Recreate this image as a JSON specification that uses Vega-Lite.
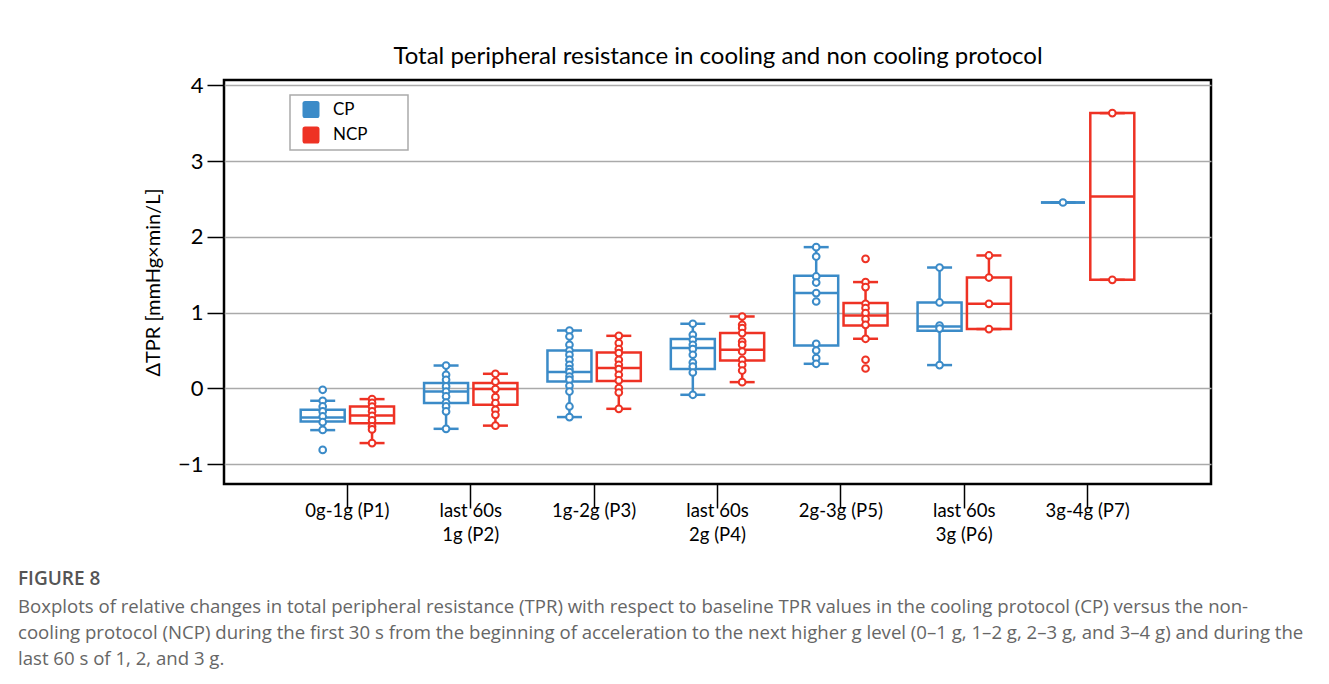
{
  "$schema": "https://vega.github.io/schema/vega-lite/v6.json",
  "width": 987,
  "height": 404,
  "autosize": {"type": "none"},
  "padding": {"left": 224, "top": 80, "right": 118, "bottom": 200},
  "background": "white",
  "config": {
    "view": {"stroke": "black", "strokeWidth": 2.5},
    "font": "Lato",
    "axis": {"labelFont": "Lato", "titleFont": "Lato"},
    "legend": {"strokeWidth": 1.5},
    "tick": {"opacity": 1},
    "rule": {"opacity": 1}
  },
  "title": {
    "text": "FIGURE 8",
    "subtitle": [
      "Boxplots of relative changes in total peripheral resistance (TPR) with respect to baseline TPR values in the cooling protocol (CP) versus the non-",
      "cooling protocol (NCP) during the first 30 s from the beginning of acceleration to the next higher g level (0–1 g, 1–2 g, 2–3 g, and 3–4 g) and during the",
      "last 60 s of 1, 2, and 3 g."
    ],
    "orient": "bottom",
    "anchor": "start",
    "frame": "group",
    "dx": -206,
    "offset": 26,
    "font": "Open Sans",
    "fontSize": 19,
    "fontWeight": 600,
    "color": "#555555",
    "subtitleFont": "Open Sans",
    "subtitleFontSize": 18.6,
    "subtitleColor": "#666666",
    "subtitleLineHeight": 26,
    "subtitlePadding": 9
  },
  "datasets": {
    "stats": [
      {"period": "0g-1g (P1)", "group": "CP", "lo": -0.549, "q1": -0.435, "median": -0.383, "q3": -0.281, "hi": -0.162},
      {"period": "0g-1g (P1)", "group": "NCP", "lo": -0.72, "q1": -0.457, "median": -0.356, "q3": -0.237, "hi": -0.14},
      {"period": "last 60s 1g (P2)", "group": "CP", "lo": -0.532, "q1": -0.193, "median": -0.04, "q3": 0.071, "hi": 0.303},
      {"period": "last 60s 1g (P2)", "group": "NCP", "lo": -0.49, "q1": -0.215, "median": -0.008, "q3": 0.071, "hi": 0.194},
      {"period": "1g-2g (P3)", "group": "CP", "lo": -0.377, "q1": 0.092, "median": 0.216, "q3": 0.5, "hi": 0.765},
      {"period": "1g-2g (P3)", "group": "NCP", "lo": -0.268, "q1": 0.1, "median": 0.269, "q3": 0.475, "hi": 0.695},
      {"period": "last 60s 2g (P4)", "group": "CP", "lo": -0.083, "q1": 0.256, "median": 0.533, "q3": 0.652, "hi": 0.854},
      {"period": "last 60s 2g (P4)", "group": "NCP", "lo": 0.084, "q1": 0.37, "median": 0.51, "q3": 0.731, "hi": 0.95},
      {"period": "2g-3g (P5)", "group": "CP", "lo": 0.326, "q1": 0.567, "median": 1.259, "q3": 1.487, "hi": 1.865},
      {"period": "2g-3g (P5)", "group": "NCP", "lo": 0.656, "q1": 0.831, "median": 0.963, "q3": 1.127, "hi": 1.404},
      {"period": "last 60s 3g (P6)", "group": "CP", "lo": 0.309, "q1": 0.761, "median": 0.818, "q3": 1.135, "hi": 1.596},
      {"period": "last 60s 3g (P6)", "group": "NCP", "lo": 0.784, "q1": 0.784, "median": 1.117, "q3": 1.464, "hi": 1.755},
      {"period": "3g-4g (P7)", "group": "CP", "lo": 2.454, "q1": 2.454, "median": 2.454, "q3": 2.454, "hi": 2.454},
      {"period": "3g-4g (P7)", "group": "NCP", "lo": 1.434, "q1": 1.434, "median": 2.533, "q3": 3.633, "hi": 3.633}
    ],
    "pts": [
      {"period": "0g-1g (P1)", "group": "CP", "v": -0.017},
      {"period": "0g-1g (P1)", "group": "CP", "v": -0.162},
      {"period": "0g-1g (P1)", "group": "CP", "v": -0.237},
      {"period": "0g-1g (P1)", "group": "CP", "v": -0.303},
      {"period": "0g-1g (P1)", "group": "CP", "v": -0.369},
      {"period": "0g-1g (P1)", "group": "CP", "v": -0.444},
      {"period": "0g-1g (P1)", "group": "CP", "v": -0.546},
      {"period": "0g-1g (P1)", "group": "CP", "v": -0.81},
      {"period": "0g-1g (P1)", "group": "NCP", "v": -0.14},
      {"period": "0g-1g (P1)", "group": "NCP", "v": -0.19},
      {"period": "0g-1g (P1)", "group": "NCP", "v": -0.24},
      {"period": "0g-1g (P1)", "group": "NCP", "v": -0.3},
      {"period": "0g-1g (P1)", "group": "NCP", "v": -0.36},
      {"period": "0g-1g (P1)", "group": "NCP", "v": -0.42},
      {"period": "0g-1g (P1)", "group": "NCP", "v": -0.5},
      {"period": "0g-1g (P1)", "group": "NCP", "v": -0.54},
      {"period": "0g-1g (P1)", "group": "NCP", "v": -0.72},
      {"period": "last 60s 1g (P2)", "group": "CP", "v": 0.303},
      {"period": "last 60s 1g (P2)", "group": "CP", "v": 0.18},
      {"period": "last 60s 1g (P2)", "group": "CP", "v": 0.115},
      {"period": "last 60s 1g (P2)", "group": "CP", "v": 0.027},
      {"period": "last 60s 1g (P2)", "group": "CP", "v": -0.04},
      {"period": "last 60s 1g (P2)", "group": "CP", "v": -0.105},
      {"period": "last 60s 1g (P2)", "group": "CP", "v": -0.185},
      {"period": "last 60s 1g (P2)", "group": "CP", "v": -0.237},
      {"period": "last 60s 1g (P2)", "group": "CP", "v": -0.303},
      {"period": "last 60s 1g (P2)", "group": "CP", "v": -0.532},
      {"period": "last 60s 1g (P2)", "group": "NCP", "v": 0.194},
      {"period": "last 60s 1g (P2)", "group": "NCP", "v": 0.09},
      {"period": "last 60s 1g (P2)", "group": "NCP", "v": -0.008},
      {"period": "last 60s 1g (P2)", "group": "NCP", "v": -0.114},
      {"period": "last 60s 1g (P2)", "group": "NCP", "v": -0.193},
      {"period": "last 60s 1g (P2)", "group": "NCP", "v": -0.281},
      {"period": "last 60s 1g (P2)", "group": "NCP", "v": -0.347},
      {"period": "last 60s 1g (P2)", "group": "NCP", "v": -0.49},
      {"period": "1g-2g (P3)", "group": "CP", "v": 0.765},
      {"period": "1g-2g (P3)", "group": "CP", "v": 0.686},
      {"period": "1g-2g (P3)", "group": "CP", "v": 0.577},
      {"period": "1g-2g (P3)", "group": "CP", "v": 0.501},
      {"period": "1g-2g (P3)", "group": "CP", "v": 0.445},
      {"period": "1g-2g (P3)", "group": "CP", "v": 0.379},
      {"period": "1g-2g (P3)", "group": "CP", "v": 0.313},
      {"period": "1g-2g (P3)", "group": "CP", "v": 0.256},
      {"period": "1g-2g (P3)", "group": "CP", "v": 0.216},
      {"period": "1g-2g (P3)", "group": "CP", "v": 0.158},
      {"period": "1g-2g (P3)", "group": "CP", "v": 0.115},
      {"period": "1g-2g (P3)", "group": "CP", "v": 0.036},
      {"period": "1g-2g (P3)", "group": "CP", "v": -0.04},
      {"period": "1g-2g (P3)", "group": "CP", "v": -0.237},
      {"period": "1g-2g (P3)", "group": "CP", "v": -0.377},
      {"period": "1g-2g (P3)", "group": "NCP", "v": 0.695},
      {"period": "1g-2g (P3)", "group": "NCP", "v": 0.599},
      {"period": "1g-2g (P3)", "group": "NCP", "v": 0.52},
      {"period": "1g-2g (P3)", "group": "NCP", "v": 0.467},
      {"period": "1g-2g (P3)", "group": "NCP", "v": 0.379},
      {"period": "1g-2g (P3)", "group": "NCP", "v": 0.313},
      {"period": "1g-2g (P3)", "group": "NCP", "v": 0.256},
      {"period": "1g-2g (P3)", "group": "NCP", "v": 0.181},
      {"period": "1g-2g (P3)", "group": "NCP", "v": 0.106},
      {"period": "1g-2g (P3)", "group": "NCP", "v": 0.005},
      {"period": "1g-2g (P3)", "group": "NCP", "v": -0.053},
      {"period": "1g-2g (P3)", "group": "NCP", "v": -0.268},
      {"period": "last 60s 2g (P4)", "group": "CP", "v": 0.854},
      {"period": "last 60s 2g (P4)", "group": "CP", "v": 0.708},
      {"period": "last 60s 2g (P4)", "group": "CP", "v": 0.643},
      {"period": "last 60s 2g (P4)", "group": "CP", "v": 0.577},
      {"period": "last 60s 2g (P4)", "group": "CP", "v": 0.52},
      {"period": "last 60s 2g (P4)", "group": "CP", "v": 0.445},
      {"period": "last 60s 2g (P4)", "group": "CP", "v": 0.343},
      {"period": "last 60s 2g (P4)", "group": "CP", "v": 0.29},
      {"period": "last 60s 2g (P4)", "group": "CP", "v": 0.211},
      {"period": "last 60s 2g (P4)", "group": "CP", "v": -0.083},
      {"period": "last 60s 2g (P4)", "group": "NCP", "v": 0.95},
      {"period": "last 60s 2g (P4)", "group": "NCP", "v": 0.84},
      {"period": "last 60s 2g (P4)", "group": "NCP", "v": 0.797},
      {"period": "last 60s 2g (P4)", "group": "NCP", "v": 0.731},
      {"period": "last 60s 2g (P4)", "group": "NCP", "v": 0.62},
      {"period": "last 60s 2g (P4)", "group": "NCP", "v": 0.577},
      {"period": "last 60s 2g (P4)", "group": "NCP", "v": 0.488},
      {"period": "last 60s 2g (P4)", "group": "NCP", "v": 0.379},
      {"period": "last 60s 2g (P4)", "group": "NCP", "v": 0.313},
      {"period": "last 60s 2g (P4)", "group": "NCP", "v": 0.237},
      {"period": "last 60s 2g (P4)", "group": "NCP", "v": 0.084},
      {"period": "2g-3g (P5)", "group": "CP", "v": 1.865},
      {"period": "2g-3g (P5)", "group": "CP", "v": 1.741},
      {"period": "2g-3g (P5)", "group": "CP", "v": 1.478},
      {"period": "2g-3g (P5)", "group": "CP", "v": 1.398},
      {"period": "2g-3g (P5)", "group": "CP", "v": 1.259},
      {"period": "2g-3g (P5)", "group": "CP", "v": 1.148},
      {"period": "2g-3g (P5)", "group": "CP", "v": 0.59},
      {"period": "2g-3g (P5)", "group": "CP", "v": 0.501},
      {"period": "2g-3g (P5)", "group": "CP", "v": 0.401},
      {"period": "2g-3g (P5)", "group": "CP", "v": 0.326},
      {"period": "2g-3g (P5)", "group": "NCP", "v": 1.711},
      {"period": "2g-3g (P5)", "group": "NCP", "v": 1.404},
      {"period": "2g-3g (P5)", "group": "NCP", "v": 1.338},
      {"period": "2g-3g (P5)", "group": "NCP", "v": 1.117},
      {"period": "2g-3g (P5)", "group": "NCP", "v": 1.061},
      {"period": "2g-3g (P5)", "group": "NCP", "v": 0.995},
      {"period": "2g-3g (P5)", "group": "NCP", "v": 0.916},
      {"period": "2g-3g (P5)", "group": "NCP", "v": 0.84},
      {"period": "2g-3g (P5)", "group": "NCP", "v": 0.656},
      {"period": "2g-3g (P5)", "group": "NCP", "v": 0.379},
      {"period": "2g-3g (P5)", "group": "NCP", "v": 0.264},
      {"period": "last 60s 3g (P6)", "group": "CP", "v": 1.596},
      {"period": "last 60s 3g (P6)", "group": "CP", "v": 1.135},
      {"period": "last 60s 3g (P6)", "group": "CP", "v": 0.831},
      {"period": "last 60s 3g (P6)", "group": "CP", "v": 0.79},
      {"period": "last 60s 3g (P6)", "group": "CP", "v": 0.309},
      {"period": "last 60s 3g (P6)", "group": "NCP", "v": 1.755},
      {"period": "last 60s 3g (P6)", "group": "NCP", "v": 1.464},
      {"period": "last 60s 3g (P6)", "group": "NCP", "v": 1.117},
      {"period": "last 60s 3g (P6)", "group": "NCP", "v": 0.784},
      {"period": "3g-4g (P7)", "group": "CP", "v": 2.454},
      {"period": "3g-4g (P7)", "group": "NCP", "v": 3.633},
      {"period": "3g-4g (P7)", "group": "NCP", "v": 1.434}
    ]
  },
  "layer": [
    {
      "data": {"name": "stats"},
      "mark": {"type": "rule", "strokeWidth": 2.5},
      "encoding": {
        "x": {"field": "period", "type": "nominal", "sort": ["0g-1g (P1)", "last 60s 1g (P2)", "1g-2g (P3)", "last 60s 2g (P4)", "2g-3g (P5)", "last 60s 3g (P6)", "3g-4g (P7)"],
          "scale": {"paddingInner": 0, "paddingOuter": 0.5},
          "axis": {"title": null, "labelAngle": 0, "labelFontSize": 18.5, "labelColor": "black", "labelLineHeight": 24, "tickSize": 24, "tickColor": "black", "tickWidth": 1.5, "labelPadding": -7, "domain": false, "grid": false, "labelOverlap": false, "labelBound": false,
            "labelExpr": "indexof(datum.label, 'last') === 0 ? ['last 60s', slice(datum.label, 9)] : datum.label"}},
        "xOffset": {"field": "group", "type": "nominal", "scale": {"paddingInner": 0, "paddingOuter": 0.25}},
        "y": {"field": "lo", "type": "quantitative", "title": "ΔTPR [mmHg×min/L]",
          "scale": {"domain": [-1.26, 4.07], "nice": false, "zero": false},
          "axis": {"values": [-1, -0.5, 0, 0.5, 1, 1.5, 2, 2.5, 3, 3.5, 4],
            "format": "d",
            "labelExpr": "datum.value % 1 === 0 ? datum.label : ''",
            "tickSize": {"condition": {"test": "datum.value % 1 === 0", "value": 17}, "value": 8},
            "gridOpacity": {"condition": {"test": "datum.value % 1 !== 0", "value": 0}, "value": 1},
            "grid": true, "gridColor": "#aaaaaa", "gridWidth": 1.5,
            "tickColor": "black", "tickWidth": 1.5, "domain": false,
            "labelFontSize": 22, "labelColor": "black", "labelPadding": 4,
            "titleFontSize": 20, "titleFontWeight": "normal", "titleColor": "black", "titlePadding": 14}},
        "y2": {"field": "q1"},
        "color": {"field": "group", "type": "nominal",
          "scale": {"domain": ["CP", "NCP"], "range": ["#3b8bc8", "#ee3224"]},
          "legend": {"title": null, "orient": "none", "legendX": 66, "legendY": 15,
            "symbolType": "M -0.7 -1 L 0.7 -1 Q 1 -1 1 -0.7 L 1 0.7 Q 1 1 0.7 1 L -0.7 1 Q -1 1 -1 0.7 L -1 -0.7 Q -1 -1 -0.7 -1 Z",
            "symbolSize": 289, "symbolStrokeWidth": 0, "labelFontSize": 17, "labelFont": "Lato", "labelColor": "black",
            "strokeColor": "#aaaaaa", "padding": 6, "rowPadding": 7.5, "symbolOffset": 6.5, "labelOffset": 13.5,
            "labelExpr": "datum.label + '\u2003\u2003\u2002\u200b'",
            "encode": {"symbols": {"update": {"fill": {"scale": "color", "field": "value"}, "fillOpacity": {"value": 1}, "stroke": {"value": "transparent"}}}}}}
      }
    },
    {
      "data": {"name": "stats"},
      "mark": {"type": "rule", "strokeWidth": 2.5},
      "encoding": {
        "x": {"field": "period", "type": "nominal", "sort": ["0g-1g (P1)", "last 60s 1g (P2)", "1g-2g (P3)", "last 60s 2g (P4)", "2g-3g (P5)", "last 60s 3g (P6)", "3g-4g (P7)"], "scale": {"paddingInner": 0, "paddingOuter": 0.5}, "axis": null},
        "xOffset": {"field": "group", "type": "nominal", "scale": {"paddingInner": 0, "paddingOuter": 0.25}},
        "y": {"field": "q3", "type": "quantitative", "title": "ΔTPR [mmHg×min/L]", "scale": {"domain": [-1.26, 4.07], "nice": false, "zero": false}},
        "y2": {"field": "hi"},
        "color": {"field": "group", "type": "nominal", "scale": {"domain": ["CP", "NCP"], "range": ["#3b8bc8", "#ee3224"]}}
      }
    },
    {
      "data": {"name": "stats"},
      "mark": {"type": "tick", "size": 25, "thickness": 2.5, "opacity": 1},
      "encoding": {
        "x": {"field": "period", "type": "nominal", "sort": ["0g-1g (P1)", "last 60s 1g (P2)", "1g-2g (P3)", "last 60s 2g (P4)", "2g-3g (P5)", "last 60s 3g (P6)", "3g-4g (P7)"], "scale": {"paddingInner": 0, "paddingOuter": 0.5}, "axis": null},
        "xOffset": {"field": "group", "type": "nominal", "scale": {"paddingInner": 0, "paddingOuter": 0.25}},
        "y": {"field": "lo", "type": "quantitative", "title": "ΔTPR [mmHg×min/L]", "scale": {"domain": [-1.26, 4.07], "nice": false, "zero": false}},
        "color": {"field": "group", "type": "nominal", "scale": {"domain": ["CP", "NCP"], "range": ["#3b8bc8", "#ee3224"]}}
      }
    },
    {
      "data": {"name": "stats"},
      "mark": {"type": "tick", "size": 25, "thickness": 2.5, "opacity": 1},
      "encoding": {
        "x": {"field": "period", "type": "nominal", "sort": ["0g-1g (P1)", "last 60s 1g (P2)", "1g-2g (P3)", "last 60s 2g (P4)", "2g-3g (P5)", "last 60s 3g (P6)", "3g-4g (P7)"], "scale": {"paddingInner": 0, "paddingOuter": 0.5}, "axis": null},
        "xOffset": {"field": "group", "type": "nominal", "scale": {"paddingInner": 0, "paddingOuter": 0.25}},
        "y": {"field": "hi", "type": "quantitative", "title": "ΔTPR [mmHg×min/L]", "scale": {"domain": [-1.26, 4.07], "nice": false, "zero": false}},
        "color": {"field": "group", "type": "nominal", "scale": {"domain": ["CP", "NCP"], "range": ["#3b8bc8", "#ee3224"]}}
      }
    },
    {
      "data": {"name": "stats"},
      "mark": {"type": "bar", "filled": false, "strokeWidth": 2.5, "width": 44, "opacity": 1},
      "encoding": {
        "x": {"field": "period", "type": "nominal", "sort": ["0g-1g (P1)", "last 60s 1g (P2)", "1g-2g (P3)", "last 60s 2g (P4)", "2g-3g (P5)", "last 60s 3g (P6)", "3g-4g (P7)"], "scale": {"paddingInner": 0, "paddingOuter": 0.5}, "axis": null},
        "xOffset": {"field": "group", "type": "nominal", "scale": {"paddingInner": 0, "paddingOuter": 0.25}},
        "y": {"field": "q1", "type": "quantitative", "title": "ΔTPR [mmHg×min/L]", "scale": {"domain": [-1.26, 4.07], "nice": false, "zero": false}},
        "y2": {"field": "q3"},
        "color": {"field": "group", "type": "nominal", "scale": {"domain": ["CP", "NCP"], "range": ["#3b8bc8", "#ee3224"]}}
      }
    },
    {
      "data": {"name": "stats"},
      "mark": {"type": "tick", "size": 44, "thickness": 2.5, "opacity": 1},
      "encoding": {
        "x": {"field": "period", "type": "nominal", "sort": ["0g-1g (P1)", "last 60s 1g (P2)", "1g-2g (P3)", "last 60s 2g (P4)", "2g-3g (P5)", "last 60s 3g (P6)", "3g-4g (P7)"], "scale": {"paddingInner": 0, "paddingOuter": 0.5},
          "axis": {"orient": "top", "labels": false, "ticks": false, "domain": false, "grid": false,
            "title": "Total peripheral resistance in cooling and non cooling protocol",
            "titleFontSize": 24, "titleFontWeight": "normal", "titleColor": "black", "titlePadding": 12, "titleFont": "Lato"}},
        "xOffset": {"field": "group", "type": "nominal", "scale": {"paddingInner": 0, "paddingOuter": 0.25}},
        "y": {"field": "median", "type": "quantitative", "title": "ΔTPR [mmHg×min/L]", "scale": {"domain": [-1.26, 4.07], "nice": false, "zero": false}},
        "color": {"field": "group", "type": "nominal", "scale": {"domain": ["CP", "NCP"], "range": ["#3b8bc8", "#ee3224"]}}
      }
    },
    {
      "data": {"name": "pts"},
      "mark": {"type": "point", "filled": false, "fill": "white", "strokeWidth": 2, "size": 45, "opacity": 1},
      "encoding": {
        "x": {"field": "period", "type": "nominal", "sort": ["0g-1g (P1)", "last 60s 1g (P2)", "1g-2g (P3)", "last 60s 2g (P4)", "2g-3g (P5)", "last 60s 3g (P6)", "3g-4g (P7)"], "scale": {"paddingInner": 0, "paddingOuter": 0.5}, "axis": null},
        "xOffset": {"field": "group", "type": "nominal", "scale": {"paddingInner": 0, "paddingOuter": 0.25}},
        "y": {"field": "v", "type": "quantitative", "title": "ΔTPR [mmHg×min/L]", "scale": {"domain": [-1.26, 4.07], "nice": false, "zero": false}},
        "color": {"field": "group", "type": "nominal", "scale": {"domain": ["CP", "NCP"], "range": ["#3b8bc8", "#ee3224"]}}
      }
    }
  ],
  "resolve": {"axis": {"x": "independent"}}
}
